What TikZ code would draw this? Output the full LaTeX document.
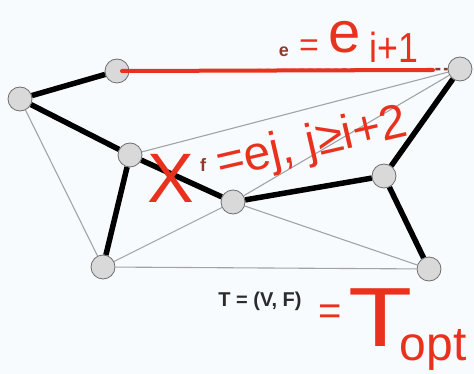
\documentclass[tikz,border=0pt]{standalone}
\usepackage{fontspec}
\setsansfont{Liberation Sans}
\usepackage{xcolor}
\definecolor{bgcol}{HTML}{F8FBFE}
\definecolor{nodefill}{HTML}{D9D9D9}
\definecolor{nodeedge}{HTML}{6E6E6E}
\definecolor{thinedge}{HTML}{A3A3A3}
\definecolor{dashred}{HTML}{8E3B2E}
\definecolor{inkred}{HTML}{E8321E}
\definecolor{darktext}{HTML}{2B2B2B}
\newcommand{\fsz}[1]{\fontsize{#1}{#1}\selectfont}

\begin{document}
\begin{tikzpicture}[x=1pt,y=-1pt,
  vertex/.style={circle,draw=nodeedge,fill=nodefill,line width=0.8pt,minimum size=24pt,inner sep=0pt},
  tree/.style={line width=5.5pt,black},
  chord/.style={line width=1.1pt,thinedge},
  swap/.style={line width=2.4pt,dashred,dash pattern=on 5pt off 3.5pt},
  elabel/.style={text=dashred,font=\sffamily\bfseries\fsz{18},inner sep=0pt,anchor=base},
  ink/.style={text=inkred,font=\sffamily,inner sep=0pt}]
  \fill[bgcol] (0,0) rectangle (474,374);
  \useasboundingbox (0,0) rectangle (474,374);

  % vertices
  \node[vertex] (vtl) at (117,71) {};
  \node[vertex] (vl)  at (20,99) {};
  \node[vertex] (vm)  at (130,155) {};
  \node[vertex] (vc)  at (233,202) {};
  \node[vertex] (vr)  at (384,176) {};
  \node[vertex] (vtr) at (460,69) {};
  \node[vertex] (vbl) at (103,267) {};
  \node[vertex] (vbr) at (429,269) {};

  % thin edges
  \draw[chord] (vl) -- (vbl);
  \draw[chord] (vm) -- (vtr);
  \draw[chord] (vc) -- (vtr);
  \draw[chord] (vc) -- (vbl);
  \draw[chord] (vc) -- (vbr);
  \draw[chord] (vbl) -- (vbr);

  % tree edges
  \draw[tree] (vtl) -- (vl);
  \draw[tree] (vl) -- (vm);
  \draw[tree] (vm) -- (vc);
  \draw[tree] (vc) -- (vr);
  \draw[tree] (vr) -- (vtr);
  \draw[tree] (vm) -- (vbl);
  \draw[tree] (vr) -- (vbr);

  % dashed edge e
  \draw[swap] (vtl) -- (vtr);
  \node[elabel] (le) at (284,57) {e};
  \node[elabel] (lf) at (203,172) {f};

  \node[font=\sffamily\bfseries\fsz{20},text=darktext] (tvf) at (260,301) {T = (V, F)};

  % red handwriting
  \coordinate (inkend) at (433,70);
  \draw[inkred,line width=4pt,line cap=round] ([xshift=5pt]vtl.center) -- (inkend);
  \node[ink,font=\sffamily\fsz{34}] (heq) at (309,48) {=};
  \node[ink,font=\sffamily\fsz{58},anchor=base] (he) at (345,53) {e};
  \node[ink,font=\sffamily\fsz{42},anchor=base] (hi) at (394,63) {\scalebox{0.85}[1]{i+1}};
  \node[ink,font=\sffamily\fsz{70}] (hx) at (171,178) {X};
  \node[ink,font=\sffamily\fsz{48},rotate=13] (hj) at (312,145) {=ej, j≥i+2};
  \node[ink,font=\sffamily\fsz{40}] (heqb) at (330,315) {=};
  \node[ink,font=\sffamily\fsz{84}] (ht) at (381,318) {\scalebox{1.25}[1]{T}};
  \node[ink,font=\sffamily\fsz{48},anchor=base] (hopt) at (433,360) {opt};
\end{tikzpicture}
\end{document}
